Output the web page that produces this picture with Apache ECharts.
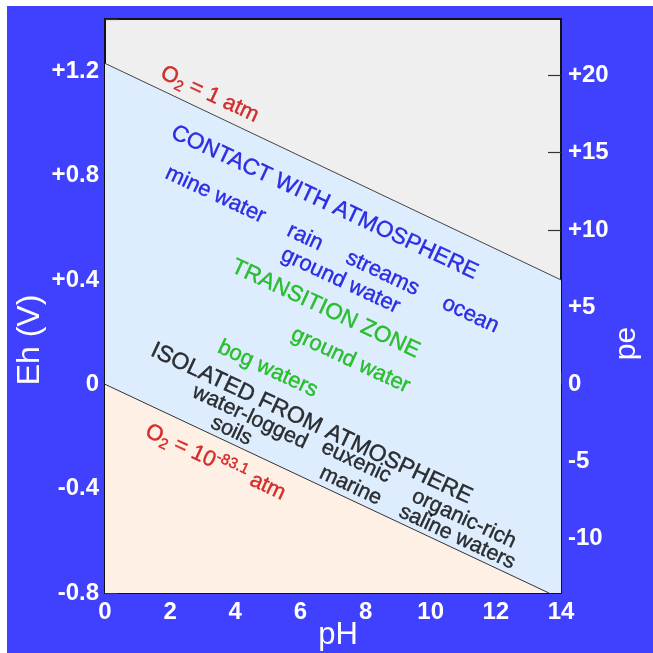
<!DOCTYPE html>
<html><head><meta charset="utf-8">
<script src="https://cdn.jsdelivr.net/npm/echarts@6/dist/echarts.min.js"></script>
<style>
html,body{margin:0;padding:0;background:#fff;width:653px;height:653px;overflow:hidden}
#chart{position:absolute;left:7px;top:6px;width:646px;height:647px}
</style></head><body><div id="chart"></div>
<script>
// ---- data ----
const phRange = [0, 14];
const phTicks = [0, 2, 4, 6, 8, 10, 12, 14];
const ehRange = [-0.8, 1.4];
const ehTicks = [-0.8, -0.6, -0.4, -0.2, 0, 0.2, 0.4, 0.6, 0.8, 1.0, 1.2, 1.4];
const ehLabels = [-0.8, -0.4, 0, 0.4, 0.8, 1.2];
const peTicks = [-10, -5, 0, 5, 10, 15, 20];
const voltsPerPe = 0.05916;
const upperBoundary = [[0, 1.23], [14, 0.40]];     // O2 = 1 atm
const lowerBoundary = [[0, 0], [13.63, -0.80]];    // O2 = 10^-83.1 atm

const labelTexts = [
  '{a|O}{s|2}{a| = 1 atm}',
  'CONTACT WITH ATMOSPHERE', 'mine water', 'rain', 'streams', 'ground water', 'ocean',
  'TRANSITION ZONE', 'ground water', 'bog waters',
  'ISOLATED FROM ATMOSPHERE', 'water-logged', 'soils', 'euxenic', 'marine', 'organic-rich', 'saline waters',
  '{a|O}{s|2}{a| = 10}{p|-83.1}{a| atm}'
];
const labelPH = [3.21, 6.74, 3.39, 6.14, 8.52, 7.23, 11.22, 6.77, 7.54, 5.00, 6.34, 4.45, 3.88, 7.71, 7.54, 11.02, 10.81, 3.39];
const labelEh = [1.111, 0.697, 0.726, 0.563, 0.4255, 0.397, 0.266, 0.289, 0.092, 0.059, -0.151, -0.126, -0.178, -0.297, -0.389, -0.516, -0.586, -0.299];
const labelGroup = ['red', 'blueT', 'blue', 'blue', 'blue', 'blue', 'blue', 'greenT', 'green', 'green',
  'blackT', 'black', 'black', 'black', 'black', 'black', 'black', 'red'];

// ---- styles ----
const FONT = "'Liberation Sans', Arial, Helvetica, sans-serif";
const groupStyle = {
  red:   {color: '#cc0000', fontSize: 22},
  blueT: {color: '#0000dd', fontSize: 22.7},
  blue:  {color: '#0000dd', fontSize: 22},
  greenT:{color: '#00b400', fontSize: 22.5},
  green: {color: '#00b400', fontSize: 22},
  blackT:{color: '#000000', fontSize: 23},
  black: {color: '#000000', fontSize: 21.5}
};
const signed = v => { const r = Math.round(v * 10) / 10; return r > 0 ? '+' + r : String(r); };

const chart = echarts.init(document.getElementById('chart'), null, {renderer: 'canvas'});
const axisLine = {show: true, lineStyle: {color: '#111', width: 2}};
const tickStyle = {color: '#333', width: 1.2};
const tickLabel = {color: '#fff', fontSize: 24, fontWeight: 'bold', fontFamily: FONT};

chart.setOption({
  animation: false,
  backgroundColor: '#4040ff',
  textStyle: {fontFamily: FONT},
  grid: {left: 98, top: 13, right: 92, bottom: 60, outerBoundsMode: 'none', containLabel: false,
         show: true, backgroundColor: '#efefef', borderColor: '#111', borderWidth: 2},
  xAxis: {
    type: 'value', min: phRange[0], max: phRange[1], interval: 2,
    axisLine: axisLine,
    axisTick: {inside: true, length: 12, lineStyle: tickStyle, customValues: phTicks},
    axisLabel: Object.assign({margin: 7, customValues: phTicks}, tickLabel),
    splitLine: {show: false},
    name: 'pH', nameLocation: 'middle', nameGap: 27, nameMoveOverlap: false,
    nameTextStyle: {color: '#fff', fontSize: 31, fontFamily: FONT, padding: [0, 0, 0, 10]}
  },
  yAxis: [{
    type: 'value', min: ehRange[0], max: ehRange[1], position: 'left',
    axisLine: axisLine,
    axisTick: {inside: true, length: 13, lineStyle: tickStyle, customValues: ehTicks},
    axisLabel: Object.assign({margin: 6, customValues: ehLabels, formatter: signed}, tickLabel),
    splitLine: {show: false},
    name: 'Eh (V)', nameLocation: 'middle', nameRotate: 90, nameGap: 59, nameMoveOverlap: false,
    nameTextStyle: {color: '#fff', fontSize: 32, fontFamily: FONT, padding: [0, 68, 0, 0]}
  }, {
    type: 'value', min: ehRange[0] / voltsPerPe, max: ehRange[1] / voltsPerPe, position: 'right',
    axisLine: axisLine,
    axisTick: {inside: true, length: 13, lineStyle: tickStyle, customValues: peTicks},
    axisLabel: Object.assign({margin: 7, customValues: peTicks, formatter: v => { const r = Math.round(v); return r > 0 ? '+' + r : String(r); }}, tickLabel),
    splitLine: {show: false},
    name: 'pe', nameLocation: 'middle', nameRotate: 90, nameGap: 51, nameMoveOverlap: false,
    nameTextStyle: {color: '#fff', fontSize: 30, fontFamily: FONT, padding: [0, 75, 0, 0]}
  }],
  series: [{
    type: 'line', yAxisIndex: 0, data: upperBoundary, symbol: 'none', silent: true,
    lineStyle: {color: '#444', width: 1},
    areaStyle: {color: '#deedfd', opacity: 1, origin: 'start'}
  }, {
    type: 'line', yAxisIndex: 0, data: lowerBoundary, symbol: 'none', silent: true,
    lineStyle: {color: '#333', width: 1},
    areaStyle: {color: '#fff0e6', opacity: 1, origin: 'start'}
  }, {
    type: 'scatter', yAxisIndex: 0, symbolSize: 1, silent: true, z: 10,
    itemStyle: {color: 'rgba(0,0,0,0)'},
    data: labelTexts.map((t, i) => {
      const g = groupStyle[labelGroup[i]];
      return {
        value: [labelPH[i], labelEh[i]], name: t,
        label: {color: g.color, fontSize: g.fontSize, textBorderColor: g.color, textBorderWidth: 0.4}
      };
    }),
    label: {
      show: true, position: 'inside', rotate: -25, fontFamily: FONT,
      formatter: p => p.name,
      rich: {
        a: {fontSize: 22, fontFamily: FONT},
        s: {fontSize: 15, fontFamily: FONT, padding: [12, 0, 0, 0]},
        p: {fontSize: 15, fontFamily: FONT, padding: [0, 0, 12, 0]}
      }
    }
  }]
});
</script></body></html>
